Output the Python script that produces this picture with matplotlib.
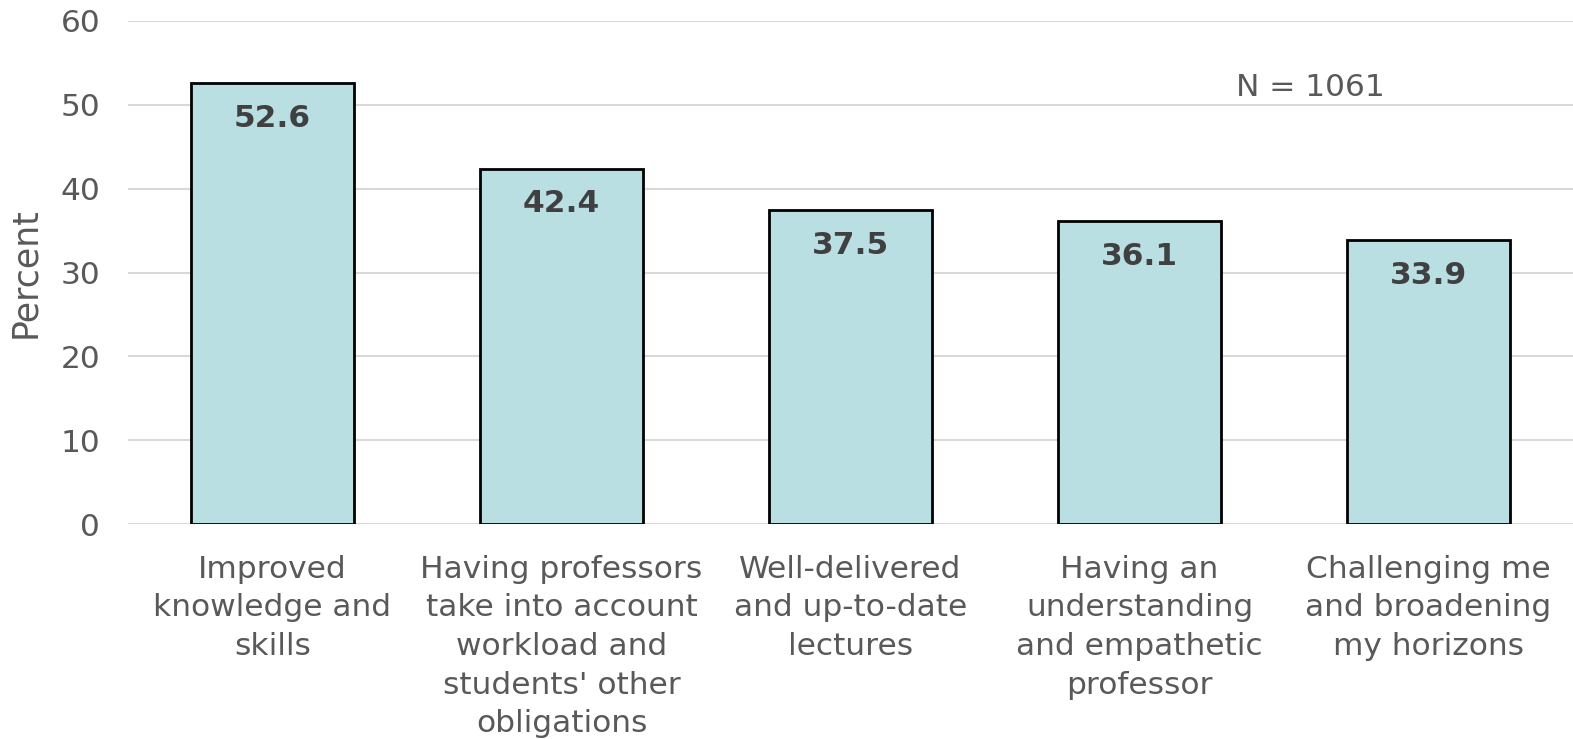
import matplotlib
matplotlib.use("Agg")
import matplotlib.pyplot as plt

categories = [
    "Improved\nknowledge and\nskills",
    "Having professors\ntake into account\nworkload and\nstudents' other\nobligations",
    "Well-delivered\nand up-to-date\nlectures",
    "Having an\nunderstanding\nand empathetic\nprofessor",
    "Challenging me\nand broadening\nmy horizons",
]
values = [52.6, 42.4, 37.5, 36.1, 33.9]
y_ticks = [0, 10, 20, 30, 40, 50, 60]
sample_note = "N = 1061"

plt.rcParams["font.family"] = ["DejaVu Sans"]
FS = 22.5
AXIS_COLOR = "#595959"
LABEL_COLOR = "#404040"
GRID_COLOR = "#D9D9D9"
BAR_COLOR = "#B9DFE2"

fig = plt.figure(figsize=(15.73, 7.39), dpi=100)
ax = fig.add_axes([0.0814, 0.2909, 0.9186, 0.6807])

x = list(range(len(categories)))
ax.bar(x, values, width=0.566, color=BAR_COLOR, edgecolor="black",
       linewidth=2, zorder=3)

for xi, v in zip(x, values):
    ax.annotate(f"{v:.1f}", (xi, v), xytext=(0, -25.5), textcoords="offset points",
                ha="center", va="center", fontsize=FS, fontweight="bold",
                color=LABEL_COLOR, zorder=4)

ax.set_xlim(-0.5, len(categories) - 0.5)
ax.set_ylim(0, 60)
ax.set_yticks(y_ticks)
ax.set_xticks(x)
ax.set_xticklabels(categories, fontsize=FS, color=AXIS_COLOR, linespacing=1.42)
ax.tick_params(axis="y", length=0, pad=20, labelsize=FS, labelcolor=AXIS_COLOR)
ax.tick_params(axis="x", length=0, pad=22)
ax.yaxis.grid(True, color=GRID_COLOR, linewidth=1.5, zorder=0)
ax.set_axisbelow(True)
for s in ax.spines.values():
    s.set_visible(False)

ax.set_ylabel("Percent", fontsize=25, color=AXIS_COLOR)
ax.yaxis.set_label_coords(-0.0595, 0.5)

ax.text(3.59, 52.1, sample_note, ha="center", va="center", fontsize=FS,
        color=AXIS_COLOR)

fig.savefig("out.png", dpi=100)
